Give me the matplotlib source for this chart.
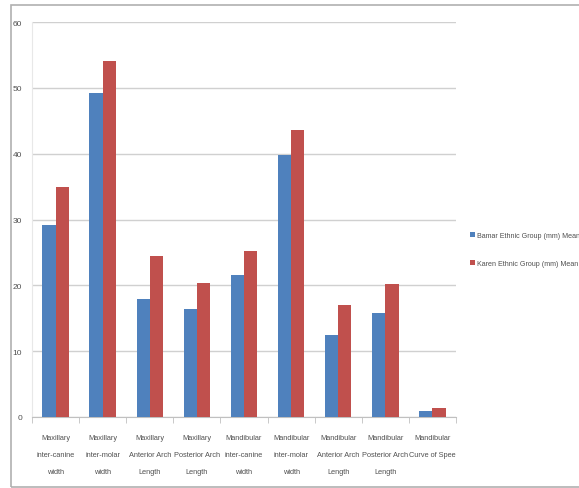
import matplotlib
matplotlib.use("Agg")
import matplotlib.pyplot as plt
import numpy as np
from matplotlib.patches import Rectangle

categories = [
    "Maxillary\ninter-canine\nwidth",
    "Maxillary\ninter-molar\nwidth",
    "Maxillary\nAnterior Arch\nLength",
    "Maxillary\nPosterior Arch\nLength",
    "Mandibular\ninter-canine\nwidth",
    "Mandibular\ninter-molar\nwidth",
    "Mandibular\nAnterior Arch\nLength",
    "Mandibular\nPosterior Arch\nLength",
    "Mandibular\nCurve of Spee",
]
bamar = [29.1, 49.2, 17.9, 16.4, 21.6, 39.8, 12.5, 15.8, 0.9]
karen = [34.9, 54.1, 24.5, 20.4, 25.2, 43.6, 17.0, 20.2, 1.4]
series_names = ["Bamar Ethnic Group (mm) Mean", "Karen Ethnic Group (mm) Mean"]
yticks = [0, 10, 20, 30, 40, 50, 60]

plt.rcParams['font.family'] = ['Liberation Sans', 'DejaVu Sans']

fig = plt.figure(figsize=(5.79, 4.89), dpi=100)
ax = fig.add_axes([32/579, 1-418/489, (456-32)/579, (418-23)/489])

x = np.arange(1, len(categories) + 1)
w = 0.28
blue = "#4f81bd"
red = "#c0504d"
txt = "#505050"
ax.bar(x - w/2, bamar, w, color=blue, label=series_names[0], zorder=3)
ax.bar(x + w/2, karen, w, color=red, label=series_names[1], zorder=3)

ax.set_xlim(0.5, len(categories) + 0.5)
ax.set_ylim(0, 60)
ax.set_yticks(yticks)
ax.set_yticklabels([str(v) for v in yticks], fontsize=6, color=txt)
ax.yaxis.grid(True, color="#d0d0d0", linewidth=1.0, zorder=0)
ax.tick_params(axis='y', length=0, pad=7)

ax.set_xticks(x)
ax.set_xticklabels(categories, fontsize=5.3, color=txt, linespacing=3.0)
ax.tick_params(axis='x', which='major', length=0, pad=12)
ax.set_xticks(np.arange(0.5, len(categories) + 1, 1), minor=True)
ax.tick_params(axis='x', which='minor', length=4, color="#c0c0c0")

for s in ['top', 'right']:
    ax.spines[s].set_visible(False)
ax.spines['left'].set_color("#e8e8e8")
ax.spines['bottom'].set_color("#c0c0c0")

leg = fig.legend(loc='upper left', bbox_to_anchor=(467/579, 1-230/489), frameon=False,
                 fontsize=5.1, handlelength=0.7, handleheight=0.7, handletextpad=0.3,
                 labelspacing=3.0, borderaxespad=0)
for t in leg.get_texts():
    t.set_color(txt)

fig.patches.append(Rectangle((11/579, 1/489), 1.0, 482/489, transform=fig.transFigure,
                             fill=False, edgecolor="#b0b0b0", linewidth=1.2))

fig.savefig("out.png", dpi=100)
